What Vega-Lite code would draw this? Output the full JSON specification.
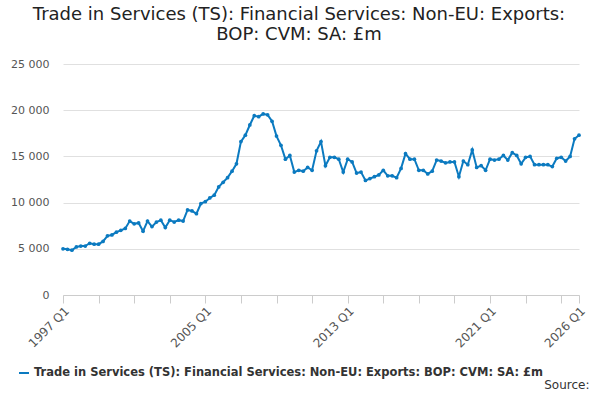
{
  "$schema": "https://vega.github.io/schema/vega-lite/v6.json",
  "width": 516,
  "height": 231,
  "padding": {"left": 10, "top": 6, "right": 18, "bottom": 0},
  "title": {"text": ["Trade in Services (TS): Financial Services: Non-EU: Exports:", "BOP: CVM: SA: £m"], "fontSize": 18, "fontWeight": "normal", "font": "DejaVu Sans", "color": "#222", "offset": 14, "dx": -22},
  "config": {"font": "DejaVu Sans", "view": {"stroke": null}},
  "data": {"values": [
    {"q":"1997 Q1","v":5000},{"q":"1997 Q2","v":4950},{"q":"1997 Q3","v":4850},{"q":"1997 Q4","v":5200},
    {"q":"1998 Q1","v":5300},{"q":"1998 Q2","v":5300},{"q":"1998 Q3","v":5600},{"q":"1998 Q4","v":5500},
    {"q":"1999 Q1","v":5500},{"q":"1999 Q2","v":5800},{"q":"1999 Q3","v":6400},{"q":"1999 Q4","v":6500},
    {"q":"2000 Q1","v":6800},{"q":"2000 Q2","v":7000},{"q":"2000 Q3","v":7200},{"q":"2000 Q4","v":8000},
    {"q":"2001 Q1","v":7700},{"q":"2001 Q2","v":7800},{"q":"2001 Q3","v":6900},{"q":"2001 Q4","v":8000},
    {"q":"2002 Q1","v":7400},{"q":"2002 Q2","v":7900},{"q":"2002 Q3","v":8100},{"q":"2002 Q4","v":7300},
    {"q":"2003 Q1","v":8100},{"q":"2003 Q2","v":7900},{"q":"2003 Q3","v":8100},{"q":"2003 Q4","v":8000},
    {"q":"2004 Q1","v":9200},{"q":"2004 Q2","v":9100},{"q":"2004 Q3","v":8800},{"q":"2004 Q4","v":9900},
    {"q":"2005 Q1","v":10100},{"q":"2005 Q2","v":10500},{"q":"2005 Q3","v":10800},{"q":"2005 Q4","v":11700},
    {"q":"2006 Q1","v":12200},{"q":"2006 Q2","v":12700},{"q":"2006 Q3","v":13400},{"q":"2006 Q4","v":14200},
    {"q":"2007 Q1","v":16600},{"q":"2007 Q2","v":17300},{"q":"2007 Q3","v":18400},{"q":"2007 Q4","v":19400},
    {"q":"2008 Q1","v":19300},{"q":"2008 Q2","v":19600},{"q":"2008 Q3","v":19500},{"q":"2008 Q4","v":18800},
    {"q":"2009 Q1","v":17200},{"q":"2009 Q2","v":16200},{"q":"2009 Q3","v":14700},{"q":"2009 Q4","v":15100},
    {"q":"2010 Q1","v":13300},{"q":"2010 Q2","v":13500},{"q":"2010 Q3","v":13400},{"q":"2010 Q4","v":13800},
    {"q":"2011 Q1","v":13500},{"q":"2011 Q2","v":15600},{"q":"2011 Q3","v":16600},{"q":"2011 Q4","v":14000},
    {"q":"2012 Q1","v":14900},{"q":"2012 Q2","v":14900},{"q":"2012 Q3","v":14700},{"q":"2012 Q4","v":13300},
    {"q":"2013 Q1","v":14700},{"q":"2013 Q2","v":14400},{"q":"2013 Q3","v":13200},{"q":"2013 Q4","v":13300},
    {"q":"2014 Q1","v":12400},{"q":"2014 Q2","v":12600},{"q":"2014 Q3","v":12800},{"q":"2014 Q4","v":13000},
    {"q":"2015 Q1","v":13500},{"q":"2015 Q2","v":12900},{"q":"2015 Q3","v":12900},{"q":"2015 Q4","v":12700},
    {"q":"2016 Q1","v":13700},{"q":"2016 Q2","v":15300},{"q":"2016 Q3","v":14700},{"q":"2016 Q4","v":14700},
    {"q":"2017 Q1","v":13500},{"q":"2017 Q2","v":13500},{"q":"2017 Q3","v":13100},{"q":"2017 Q4","v":13400},
    {"q":"2018 Q1","v":14600},{"q":"2018 Q2","v":14500},{"q":"2018 Q3","v":14300},{"q":"2018 Q4","v":14400},
    {"q":"2019 Q1","v":14400},{"q":"2019 Q2","v":12800},{"q":"2019 Q3","v":14500},{"q":"2019 Q4","v":14100},
    {"q":"2020 Q1","v":15700},{"q":"2020 Q2","v":13800},{"q":"2020 Q3","v":14000},{"q":"2020 Q4","v":13500},
    {"q":"2021 Q1","v":14700},{"q":"2021 Q2","v":14600},{"q":"2021 Q3","v":14700},{"q":"2021 Q4","v":15100},
    {"q":"2022 Q1","v":14600},{"q":"2022 Q2","v":15400},{"q":"2022 Q3","v":15100},{"q":"2022 Q4","v":14200},
    {"q":"2023 Q1","v":14900},{"q":"2023 Q2","v":15000},{"q":"2023 Q3","v":14100},{"q":"2023 Q4","v":14100},
    {"q":"2024 Q1","v":14100},{"q":"2024 Q2","v":14100},{"q":"2024 Q3","v":13900},{"q":"2024 Q4","v":14800},
    {"q":"2025 Q1","v":14900},{"q":"2025 Q2","v":14500},{"q":"2025 Q3","v":15000},{"q":"2025 Q4","v":16900},
    {"q":"2026 Q1","v":17300}
  ]},
  "transform": [{"calculate": "'Trade in Services (TS): Financial Services: Non-EU: Exports: BOP: CVM: SA: £m'", "as": "s"}],
  "mark": {"type": "line", "point": {"size": 14, "filled": true, "opacity": 1}, "strokeWidth": 2},
  "encoding": {
    "x": {"field": "q", "type": "ordinal", "sort": null, "title": "Source:",
      "scale": {"type": "point", "padding": 0},
      "axis": {"values": ["1997 Q1","1999 Q1","2001 Q1","2003 Q1","2005 Q1","2007 Q1","2009 Q1","2011 Q1","2013 Q1","2015 Q1","2017 Q1","2019 Q1","2021 Q1","2023 Q1","2025 Q1","2026 Q1"],
        "labelExpr": "indexof(['1997 Q1','2005 Q1','2013 Q1','2021 Q1','2026 Q1'], datum.value) >= 0 ? datum.value : ''",
        "labelAngle": -45, "labelAlign": "right", "labelFontSize": 12, "labelColor": "#555", "domainColor": "#ccc", "tickColor": "#ccc", "tickSize": 8, "grid": false,
        "titleAnchor": "end", "titleAlign": "right", "titleBaseline": "bottom", "titleFontWeight": "normal", "titleFontSize": 12, "titleColor": "#333", "titleY": 96, "titleX": 526}},
    "y": {"field": "v", "type": "quantitative", "title": null,
      "scale": {"domain": [0, 25000]},
      "axis": {"values": [0,5000,10000,15000,20000,25000], "labelExpr": "replace(format(datum.value, ','), ',', ' ')", "labelFontSize": 11, "labelColor": "#555", "domain": false, "ticks": false, "gridColor": "#e0e0e0", "labelPadding": 14}},
    "color": {"field": "s", "type": "nominal", "scale": {"range": ["#0b7ac0"]},
      "legend": {"orient": "none", "legendX": -45, "legendY": 303, "direction": "horizontal", "title": null, "labelFontSize": 11.5, "labelFontWeight": "bold", "labelColor": "#333", "symbolType": "stroke", "symbolStrokeWidth": 2, "labelLimit": 600}}
  }
}
